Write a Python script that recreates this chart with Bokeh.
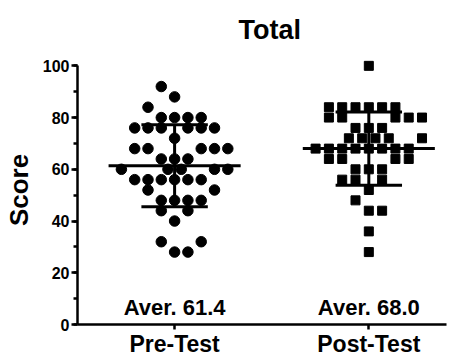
import numpy as np
from bokeh.plotting import figure
from bokeh.models import (Range1d, FixedTicker, SingleIntervalTicker, LinearAxis, Title)
from bokeh.core.properties import value
from bokeh.embed import file_html
from bokeh.resources import INLINE

# ---------------- data ----------------
title_text = "Total"
y_label = "Score"
categories = ["Pre-Test", "Post-Test"]
cat_pos = [1, 2]
y_ticks_interval = 20

pre_scores = [92, 88, 84,
              80, 80, 80, 80,
              76, 76, 76, 76, 76, 76,
              72,
              68, 68, 68, 68, 68,
              64, 64, 64,
              60, 60, 60, 60, 60,
              56, 56, 56, 56, 56, 56,
              52, 52,
              48, 48, 48, 48,
              44, 44,
              40,
              32, 32,
              28, 28]
# swarm dodge (in marker slots)
pre_dodge = [-1, 0, -2,
             -1, 0, 1, 2,
             -3, -2, -1, 1, 2, 3,
             0,
             -3, -2, 2, 3, 4,
             -1, 0, 1,
             -4, -0.5, 0.5, 3, 4,
             -3, -2, -1, 0, 1, 2,
             -2, 3,
             -1, 0, 1, 2,
             -1, 1,
             0,
             -1, 2,
             0, 1]

post_scores = [100,
               84, 84, 84, 84, 84, 84,
               80, 80, 80, 80, 80,
               76, 76, 76,
               72, 72, 72, 72, 72,
               68, 68, 68, 68, 68, 68, 68, 68,
               64, 64, 64, 64,
               60, 60, 60,
               56, 56, 56,
               52,
               48,
               44, 44,
               36,
               28]
post_dodge = [0,
              -3, -2, -1, 0, 1, 2,
              -3, -2, 2, 3, 4,
              -1, 0, 1,
              -1.5, -0.5, 0.5, 1.5, 4,
              -4, -3, -2, -1, 0, 1, 2, 3,
              -3, -2, 2, 3,
              -1, 0, 1,
              -2, -1, 1,
              0,
              -1,
              0, 1,
              0,
              0]

# ---------------- figure ----------------
FONT = "Liberation Sans"
SLOT = 0.0685          # data-units per marker slot
MEAN_HALF = 0.34
SD_HALF = 0.171

p = figure(width=462, height=359, output_backend="svg", toolbar_location=None,
           x_range=Range1d(0.5, 2.4), y_range=Range1d(0, 104),
           x_axis_type=None, y_axis_type=None,
           min_border_left=76, min_border_right=16, min_border_top=55, min_border_bottom=20)
p.outline_line_color = None
p.background_fill_color = "white"
p.border_fill_color = "white"

title = Title(text=title_text, align="left", offset=161, standoff=21,
              vertical_align="bottom",
              text_font=FONT, text_font_style="bold", text_font_size="27px",
              text_color="black")
p.add_layout(title, "above")

yaxis = LinearAxis(ticker=SingleIntervalTicker(interval=y_ticks_interval, num_minor_ticks=2),
                   bounds=(0, 100), axis_label=y_label)
yaxis.axis_line_width = 2.5
yaxis.major_tick_line_width = 2.5
yaxis.minor_tick_line_width = 2.5
yaxis.major_tick_out = 6
yaxis.major_tick_in = 0
yaxis.minor_tick_out = 4
yaxis.minor_tick_in = 0
yaxis.major_label_standoff = 2
yaxis.major_label_text_font = FONT
yaxis.major_label_text_font_style = "bold"
yaxis.major_label_text_font_size = "16px"
yaxis.major_label_text_color = "black"
yaxis.axis_label_text_font = FONT
yaxis.axis_label_text_font_style = "bold"
yaxis.axis_label_text_font_size = "26px"
yaxis.axis_label_text_color = "black"
yaxis.axis_label_standoff = 6
p.add_layout(yaxis, "left")

xaxis = LinearAxis(ticker=FixedTicker(ticks=cat_pos),
                   major_label_overrides={pos: name for pos, name in zip(cat_pos, categories)})
xaxis.axis_line_width = 2.5
xaxis.major_tick_line_width = 2.5
xaxis.major_tick_out = 5
xaxis.major_tick_in = 0
xaxis.minor_tick_line_color = None
xaxis.major_label_standoff = 1
xaxis.major_label_text_font = FONT
xaxis.major_label_text_font_style = "bold"
xaxis.major_label_text_font_size = "23px"
xaxis.major_label_text_color = "black"
p.add_layout(xaxis, "below")

# points
pre_x = [cat_pos[0] + d * SLOT for d in pre_dodge]
post_x = [cat_pos[1] + d * SLOT for d in post_dodge]
p.scatter(pre_x, pre_scores, marker="circle", size=10.5, color="black")
p.scatter(post_x, post_scores, marker="square", size=9, color="black")

# mean and SD
groups = [np.array(pre_scores, float), np.array(post_scores, float)]
means = np.array([g.mean() for g in groups])
sds = np.array([g.std(ddof=1) for g in groups])
cx = np.array(cat_pos, float)

p.segment(cx - MEAN_HALF, means, cx + MEAN_HALF, means, line_color="black", line_width=3)
p.segment(cx - SD_HALF, means + sds, cx + SD_HALF, means + sds, line_color="black", line_width=3)
p.segment(cx - SD_HALF, means - sds, cx + SD_HALF, means - sds, line_color="black", line_width=3)
p.segment(cx, means - sds, cx, means + sds, line_color="black", line_width=3)

# average texts
aver_texts = [f"Aver. {m:.1f}" for m in means]
p.text(x=cat_pos, y=[6.5, 6.5], text=aver_texts, text_align="center",
       text_baseline="alphabetic", text_font=value(FONT), text_font_style="bold",
       text_font_size="22px", text_color="black")

open("out.html", "w").write(file_html(p, INLINE))
